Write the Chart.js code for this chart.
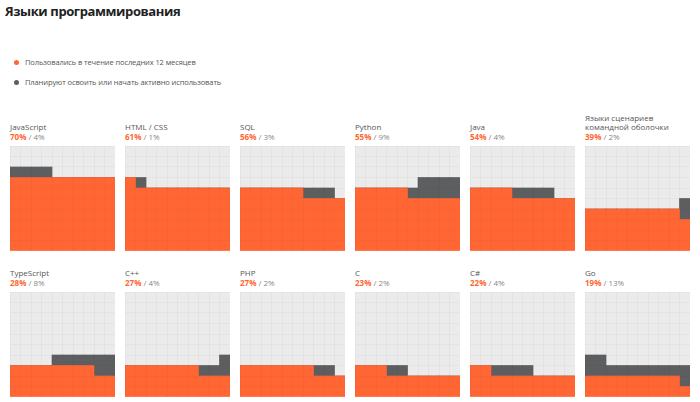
<!DOCTYPE html>
<html>
<head>
<meta charset="utf-8">
<script src="https://cdn.jsdelivr.net/npm/chart.js@4.4.0/dist/chart.umd.min.js"></script>
<style>
  body { margin: 0; background: #fff; font-family: "Open Sans", "Noto Sans", sans-serif; }
  #page { position: relative; width: 700px; height: 402px; overflow: hidden; }
  h1 { position: absolute; left: 5px; top: 2px; margin: 0; font-size: 13px; letter-spacing: -0.4px; font-weight: 700; color: #222; }
  .legend { position: absolute; left: 14px; font-size: 7.5px; letter-spacing: -0.1px; color: #555; line-height: 10px; }
  .legend span.dot { display: inline-block; width: 5px; height: 5px; border-radius: 50%; margin-right: 6px; vertical-align: 0px; }
  .label { position: absolute; width: 112px; font-size: 8px; line-height: 9.5px; color: #555; }
  .label b { color: #ff6633; font-weight: 700; }
  .label .rest { color: #888; }
  canvas { position: absolute; }
</style>
</head>
<body>
<div id="page">
  <h1>Языки программирования</h1>
  <div class="legend" style="top:57px"><span class="dot" style="background:#ff6633"></span>Пользовались в течение последних 12 месяцев</div>
  <div class="legend" style="top:77px"><span class="dot" style="background:#5c5e60"></span>Планируют освоить или начать активно использовать</div>
</div>
<script>
const languages = ["JavaScript", "HTML / CSS", "SQL", "Python", "Java", "Языки сценариев командной оболочки",
  "TypeScript", "C++", "PHP", "C", "C#", "Go"];
const usedPct = [70, 61, 56, 55, 54, 39, 28, 27, 27, 23, 22, 19];
const plannedPct = [4, 1, 3, 9, 4, 2, 8, 4, 2, 2, 4, 13];
const gridCols = ["1", "2", "3", "4", "5", "6", "7", "8", "9", "10"];

const ORANGE = "#ff6633";
const GRAY = "#5c5e60";
const PANEL_BG = "#ebebeb";

// waffle 10x10: orange fills rows left to right, gray continues snaking from where orange stops
function columnStacks(used, planned) {
  const orange = new Array(10).fill(0);
  const gray = new Array(10).fill(0);
  for (let i = 0; i < used; i++) orange[i % 10]++;
  const startRow = Math.floor(used / 10);
  for (let j = 0; j < planned; j++) {
    const k = used + j;
    const row = Math.floor(k / 10);
    const col = (row - startRow) % 2 === 0 ? k % 10 : 9 - (k % 10);
    gray[col]++;
  }
  return { orange, gray };
}

const panelBackground = {
  id: "panelBackground",
  beforeDraw(chart) {
    const a = chart.chartArea;
    chart.ctx.save();
    chart.ctx.fillStyle = PANEL_BG;
    chart.ctx.fillRect(a.left, a.top, a.right - a.left, a.bottom - a.top);
    chart.ctx.restore();
  }
};

const page = document.getElementById("page");
const lefts = [10, 125, 240, 355, 470, 585];
const tops = [146, 292];
const size = 105;

languages.forEach((name, idx) => {
  const left = lefts[idx % 6];
  const top = tops[Math.floor(idx / 6)];

  const label = document.createElement("div");
  label.className = "label";
  label.style.left = left + "px";
  label.style.bottom = (402 - top + 5) + "px";
  const nameHtml = name === "Языки сценариев командной оболочки" ? "Языки сценариев<br>командной оболочки" : name;
  label.innerHTML = `${nameHtml}<br><b>${usedPct[idx]}%</b><span class="rest"> / ${plannedPct[idx]}%</span>`;
  page.appendChild(label);

  const canvas = document.createElement("canvas");
  canvas.width = size;
  canvas.height = size;
  canvas.style.left = left + "px";
  canvas.style.top = top + "px";
  page.appendChild(canvas);

  const stacks = columnStacks(usedPct[idx], plannedPct[idx]);

  new Chart(canvas.getContext("2d"), {
    type: "bar",
    data: {
      labels: gridCols,
      datasets: [
        { data: stacks.orange, backgroundColor: ORANGE, barPercentage: 1, categoryPercentage: 1 },
        { data: stacks.gray, backgroundColor: GRAY, barPercentage: 1, categoryPercentage: 1 }
      ]
    },
    options: {
      responsive: false,
      animation: false,
      devicePixelRatio: 1,
      layout: { padding: 0 },
      plugins: { legend: { display: false }, tooltip: { enabled: false } },
      scales: {
        x: {
          stacked: true,
          ticks: { display: false },
          grid: { color: "rgba(0,0,0,0.028)", drawTicks: false, z: 1 },
          border: { display: false }
        },
        y: {
          stacked: true,
          min: 0,
          max: 10,
          ticks: { display: false, stepSize: 1 },
          grid: { color: "rgba(0,0,0,0.028)", drawTicks: false, z: 1 },
          border: { display: false }
        }
      }
    },
    plugins: [panelBackground]
  });
});
</script>
</body>
</html>
